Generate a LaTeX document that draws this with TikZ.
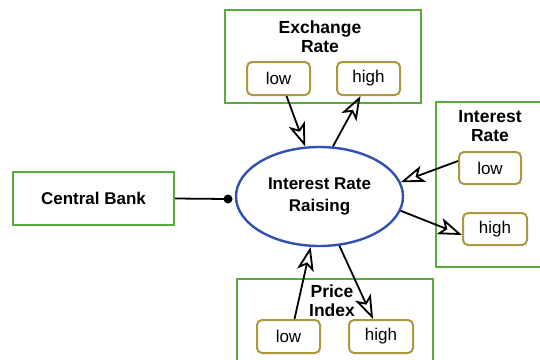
\documentclass[tikz,border=0pt]{standalone}
\usepackage{fontspec}
\setmainfont{Liberation Sans}
\usetikzlibrary{shapes.geometric,arrows.meta}
\definecolor{gbox}{RGB}{92,170,62}
\definecolor{obox}{RGB}{170,152,62}
\definecolor{eblue}{RGB}{48,80,180}
\tikzset{
  bigbox/.style={draw=gbox,line width=2.4pt,minimum width=#1},
  small/.style={draw=obox,line width=2pt,rounded corners=5pt,minimum width=63pt,minimum height=33pt,inner sep=0pt,font=\fontsize{17}{18}\selectfont},
  ttl/.style={align=center,font=\bfseries\fontsize{17.5}{19}\selectfont},
  arr/.style={line width=1.8pt,arrows={-Stealth[open,length=24pt,width=17pt,inset=6pt]}},
}
\begin{document}
\begin{tikzpicture}[x=1pt,y=-1pt]
\useasboundingbox (0,0) rectangle (540,359);
% big boxes
\node[bigbox=196pt,minimum height=93pt] (exbox) at (323,56.5) {};
\node[bigbox=108pt,minimum height=165pt] (irbox) at (490,184.5) {};
\node[bigbox=196pt,minimum height=91pt] (pibox) at (335,324.5) {};
\node[bigbox=161pt,minimum height=53pt,font=\bfseries\fontsize{17}{18}\selectfont] (cb) at (93.5,198.5) {Central Bank};
% titles
\node[ttl] (extitle) at (320,37) {Exchange\\Rate};
\node[ttl] (irtitle) at (490,126) {Interest\\Rate};
\node[ttl] (pititle) at (332,301) {Price\\Index};
% small boxes
\node[small] (exlow) at (278.5,78.5) {low};
\node[small] (exhigh) at (368.5,78.5) {high};
\node[small,minimum width=62pt,minimum height=32pt] (irlow) at (490,168) {low};
\node[small,minimum width=64pt,minimum height=32pt] (irhigh) at (495,229) {high};
\node[small] (pilow) at (288.5,336.5) {low};
\node[small,minimum width=64pt] (pihigh) at (381,336.5) {high};
% ellipse
\node[ellipse,draw=eblue,line width=2.4pt,minimum width=167pt,minimum height=99pt,inner sep=0pt,align=center,font=\bfseries\fontsize{17}{21.5}\selectfont,fill=white] (ell) at (319.5,196.5) {Interest Rate\\Raising};
% central bank link
\coordinate (dot) at (228,199);
\draw[line width=1.8pt] (cb.east) -- (dot);
\fill (dot) circle (4.5pt);
% arrows
\draw[arr] ([xshift=8pt]exlow.south) -- (ell.106);
\draw[arr] (ell.75) -- ([xshift=-8pt]exhigh.south);
\draw[arr] ([yshift=7pt]irlow.west) -- (ell.10);
\draw[arr] (ell.-10) -- ([yshift=-6pt]irhigh.west);
\draw[arr] ([xshift=6pt]pilow.north) -- (ell.-100);
\draw[arr] (ell.-68) -- ([xshift=-8pt]pihigh.north);
\end{tikzpicture}
\end{document}
